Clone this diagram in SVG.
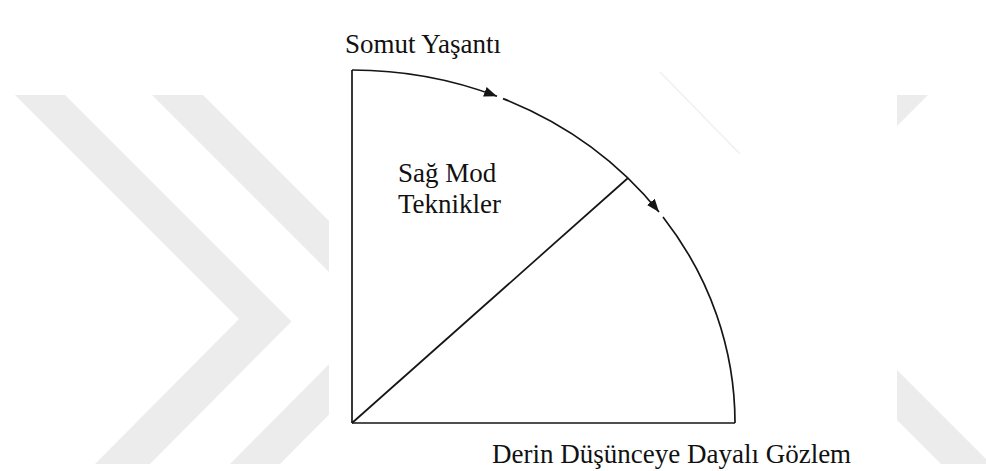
<svg xmlns="http://www.w3.org/2000/svg" width="986" height="471" viewBox="0 0 986 471">
  <style>
    .wm { fill: #ececec; }
    .ln { fill: none; stroke: #151515; stroke-width: 1.7; }
    .lbl { font-family: "Liberation Serif", "Times New Roman", serif; font-size: 27px; fill: #111111; }
  </style>
  <defs>
    <marker id="arrow" markerUnits="userSpaceOnUse" markerWidth="14" markerHeight="10" refX="13" refY="5" orient="auto">
      <path d="M0,0 L13,5 L0,10 z" fill="#151515"/>
    </marker>
  </defs>
  <rect width="986" height="471" fill="#ffffff"/>
  <g id="watermark">
    <polygon class="wm" points="15,95 65,95 291.5,321.5 150,464 95,464 239,319"/>
    <polygon class="wm" points="152,95 203,95 425.5,317.5 280,464 230,464 375,318"/>
    <polygon class="wm" points="897,95 928,95 897,126"/>
    <polygon class="wm" points="897,370 986,459 986,464 941,464 897,420"/>
    <rect x="329" y="0" width="568" height="471" fill="#ffffff"/>
    <line x1="660" y1="72" x2="740" y2="154" stroke="#f0f0f0" stroke-width="1.5"/>
  </g>
  <g id="connectors">
    <line class="ln" x1="352" y1="70" x2="352" y2="423"/>
    <line class="ln" x1="352" y1="423" x2="735" y2="423"/>
    <line class="ln" x1="352" y1="423" x2="628" y2="178"/>
    <path class="ln" d="M352,70 A383,353 0 0 1 497,96.3" marker-end="url(#arrow)"/>
    <path class="ln" d="M503,98.6 A383,353 0 0 1 659,212" marker-end="url(#arrow)"/>
    <path class="ln" d="M663,216.9 A383,353 0 0 1 735,423"/>
  </g>
  <g id="node-somut">
    <text class="lbl" x="345" y="53">Somut Yaşantı</text>
  </g>
  <g id="node-sag-mod">
    <text class="lbl" x="398" y="182">Sağ Mod</text>
    <text class="lbl" x="398" y="213">Teknikler</text>
  </g>
  <g id="node-derin">
    <text class="lbl" x="492" y="463">Derin Düşünceye Dayalı Gözlem</text>
  </g>
</svg>
